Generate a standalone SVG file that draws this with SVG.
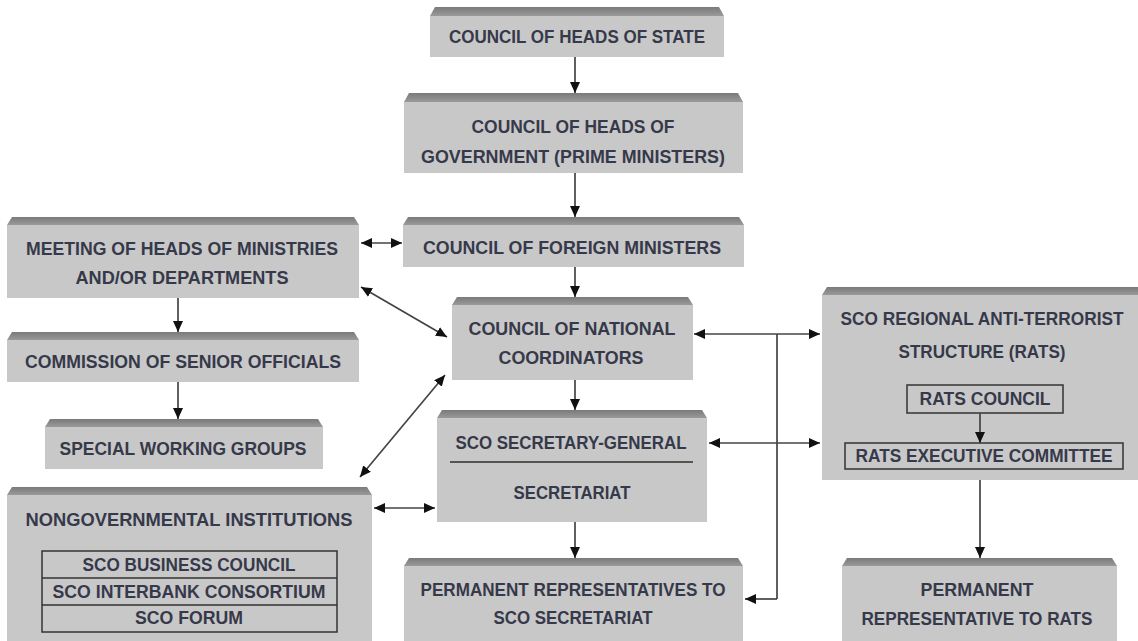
<svg xmlns="http://www.w3.org/2000/svg" width="1138" height="641" viewBox="0 0 1138 641">
<defs>
<linearGradient id="bev" x1="0" y1="0" x2="0" y2="1">
<stop offset="0" stop-color="#7a7a7a"/>
<stop offset="1" stop-color="#9a9a9a"/>
</linearGradient>
<marker id="ah" viewBox="0 0 11 10" refX="11" refY="5" markerWidth="11" markerHeight="10" markerUnits="userSpaceOnUse" orient="auto-start-reverse">
<path d="M0,0 L11,5 L0,10 z" fill="#111"/>
</marker>
<style>
.body{fill:#c8c8c8}
.bev{fill:url(#bev)}
.t{font-family:"Liberation Sans",Arial,sans-serif;font-weight:bold;font-size:17.5px;fill:#36394a;text-anchor:middle}
.in{fill:none;stroke:#333;stroke-width:1.5}
.c{fill:none;stroke:#444;stroke-width:1.7}
.one{marker-end:url(#ah)}
.two{marker-start:url(#ah);marker-end:url(#ah)}
</style>
</defs>
<rect width="1138" height="641" fill="#fff"/>

<g id="node-state">
<polygon class="bev" points="435,7 719,7 724,16 430,16"/>
<rect class="body" x="430" y="16" width="294" height="41"/>
<text class="t" x="577" y="43" textLength="256" lengthAdjust="spacingAndGlyphs">COUNCIL OF HEADS OF STATE</text>
</g>

<g id="node-government">
<polygon class="bev" points="409,93 738,93 743,102 404,102"/>
<rect class="body" x="404" y="102" width="339" height="71"/>
<text class="t" x="573" y="133" textLength="203" lengthAdjust="spacingAndGlyphs">COUNCIL OF HEADS OF</text>
<text class="t" x="573" y="163" textLength="304" lengthAdjust="spacingAndGlyphs">GOVERNMENT (PRIME MINISTERS)</text>
</g>

<g id="node-meeting">
<polygon class="bev" points="12,217 354,217 359,225 7,225"/>
<rect class="body" x="7" y="225" width="352" height="73"/>
<text class="t" x="182" y="255" textLength="312" lengthAdjust="spacingAndGlyphs">MEETING OF HEADS OF MINISTRIES</text>
<text class="t" x="182" y="284" textLength="213" lengthAdjust="spacingAndGlyphs">AND/OR DEPARTMENTS</text>
</g>

<g id="node-foreign">
<polygon class="bev" points="408,217 739,217 744,225 403,225"/>
<rect class="body" x="403" y="225" width="341" height="42"/>
<text class="t" x="572" y="254" textLength="298" lengthAdjust="spacingAndGlyphs">COUNCIL OF FOREIGN MINISTERS</text>
</g>

<g id="node-commission">
<polygon class="bev" points="12,332 354,332 359,340 7,340"/>
<rect class="body" x="7" y="340" width="352" height="42"/>
<text class="t" x="183" y="368" textLength="316" lengthAdjust="spacingAndGlyphs">COMMISSION OF SENIOR OFFICIALS</text>
</g>

<g id="node-special">
<polygon class="bev" points="50,419 318,419 323,427 45,427"/>
<rect class="body" x="45" y="427" width="278" height="42"/>
<text class="t" x="183" y="455" textLength="247" lengthAdjust="spacingAndGlyphs">SPECIAL WORKING GROUPS</text>
</g>

<g id="node-ngo">
<polygon class="bev" points="12,487 367,487 372,495 7,495"/>
<rect class="body" x="7" y="495" width="365" height="150"/>
<text class="t" x="189" y="526" textLength="327" lengthAdjust="spacingAndGlyphs">NONGOVERNMENTAL INSTITUTIONS</text>
<rect class="in" x="42" y="551" width="295" height="81"/>
<line class="in" x1="42" y1="578" x2="337" y2="578"/>
<line class="in" x1="42" y1="605" x2="337" y2="605"/>
<text class="t" x="189" y="571" textLength="213" lengthAdjust="spacingAndGlyphs">SCO BUSINESS COUNCIL</text>
<text class="t" x="189" y="598" textLength="273" lengthAdjust="spacingAndGlyphs">SCO INTERBANK CONSORTIUM</text>
<text class="t" x="189" y="624" textLength="108" lengthAdjust="spacingAndGlyphs">SCO FORUM</text>
</g>

<g id="node-national">
<polygon class="bev" points="457,297 688,297 693,305 452,305"/>
<rect class="body" x="452" y="305" width="241" height="75"/>
<text class="t" x="572" y="335" textLength="207" lengthAdjust="spacingAndGlyphs">COUNCIL OF NATIONAL</text>
<text class="t" x="571" y="364" textLength="145" lengthAdjust="spacingAndGlyphs">COORDINATORS</text>
</g>

<g id="node-secretariat">
<polygon class="bev" points="442,410 702,410 707,418 437,418"/>
<rect class="body" x="437" y="418" width="270" height="104"/>
<text class="t" x="571" y="449" textLength="231" lengthAdjust="spacingAndGlyphs">SCO SECRETARY-GENERAL</text>
<line x1="450" y1="462" x2="693" y2="462" stroke="#555" stroke-width="2"/>
<text class="t" x="572" y="499" textLength="117" lengthAdjust="spacingAndGlyphs">SECRETARIAT</text>
</g>

<g id="node-permreps">
<polygon class="bev" points="409,558 738,558 743,566 404,566"/>
<rect class="body" x="404" y="566" width="339" height="79"/>
<text class="t" x="573" y="596" textLength="305" lengthAdjust="spacingAndGlyphs">PERMANENT REPRESENTATIVES TO</text>
<text class="t" x="573" y="624" textLength="159" lengthAdjust="spacingAndGlyphs">SCO SECRETARIAT</text>
</g>

<g id="node-rats">
<polygon class="bev" points="827,287 1138,287 1138,295 822,295"/>
<rect class="body" x="822" y="295" width="316" height="185"/>
<text class="t" x="982" y="325" textLength="283" lengthAdjust="spacingAndGlyphs">SCO REGIONAL ANTI-TERRORIST</text>
<text class="t" x="982" y="358" textLength="167" lengthAdjust="spacingAndGlyphs">STRUCTURE (RATS)</text>
<rect class="in" x="907" y="385" width="156" height="28"/>
<text class="t" x="985" y="405" textLength="131" lengthAdjust="spacingAndGlyphs">RATS COUNCIL</text>
<rect class="in" x="845" y="443" width="278" height="26"/>
<text class="t" x="984" y="462" textLength="257" lengthAdjust="spacingAndGlyphs">RATS EXECUTIVE COMMITTEE</text>
</g>

<g id="node-permrep-rats">
<polygon class="bev" points="847,558 1112,558 1117,566 842,566"/>
<rect class="body" x="842" y="566" width="275" height="79"/>
<text class="t" x="977" y="596" textLength="113" lengthAdjust="spacingAndGlyphs">PERMANENT</text>
<text class="t" x="977" y="625" textLength="231" lengthAdjust="spacingAndGlyphs">REPRESENTATIVE TO RATS</text>
</g>

<g id="connectors">
<line class="c one" x1="575" y1="57" x2="575" y2="93"/>
<line class="c one" x1="575" y1="173" x2="575" y2="217"/>
<line class="c one" x1="575" y1="267" x2="575" y2="297"/>
<line class="c one" x1="575" y1="380" x2="575" y2="410"/>
<line class="c one" x1="575" y1="522" x2="575" y2="558"/>
<line class="c two" x1="361" y1="243" x2="402" y2="243"/>
<line class="c two" x1="361" y1="287" x2="447" y2="337"/>
<line class="c two" x1="360" y1="477" x2="445" y2="375"/>
<line class="c two" x1="374" y1="508" x2="435" y2="508"/>
<line class="c one" x1="178" y1="298" x2="178" y2="332"/>
<line class="c one" x1="178" y1="382" x2="178" y2="419"/>
<line class="c two" x1="694" y1="334" x2="820" y2="334"/>
<line class="c two" x1="709" y1="443" x2="820" y2="443"/>
<line class="c" x1="777" y1="334" x2="777" y2="599"/>
<line class="c one" x1="777" y1="599" x2="745" y2="599"/>
<line class="c one" x1="980" y1="413" x2="980" y2="443"/>
<line class="c one" x1="980" y1="480" x2="980" y2="558"/>
</g>
</svg>
